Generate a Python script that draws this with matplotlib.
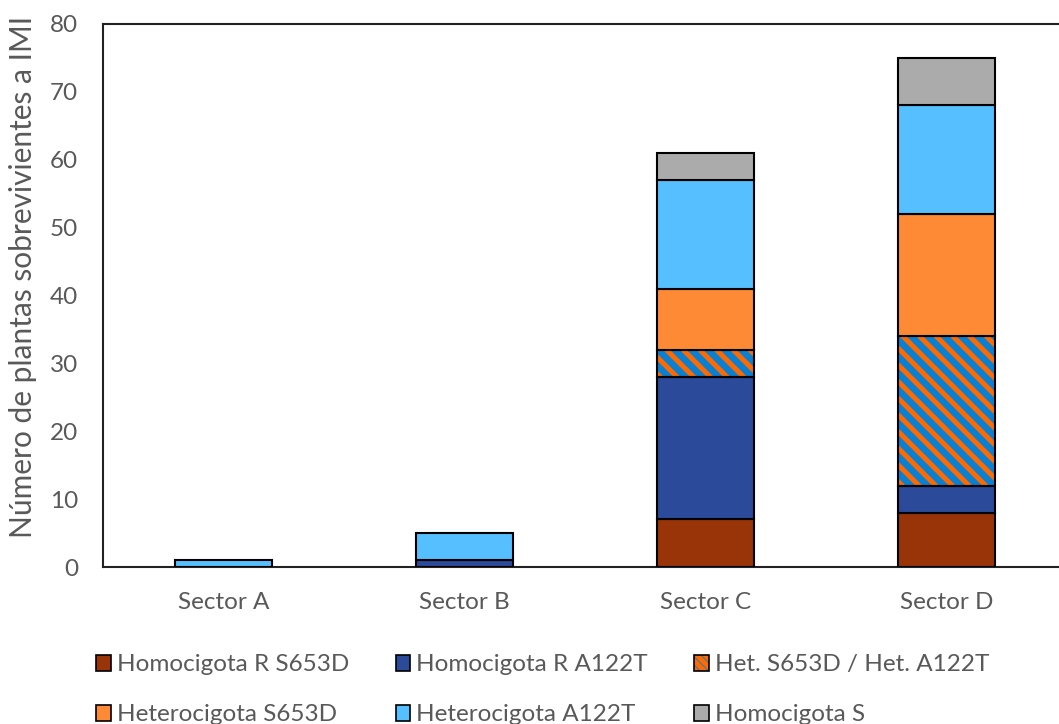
import matplotlib
matplotlib.use("Agg")
import matplotlib.pyplot as plt
from matplotlib.patches import Patch
from matplotlib.legend_handler import HandlerTuple
import numpy as np

plt.rcParams['font.family'] = ['Lato', 'DejaVu Sans']
plt.rcParams['hatch.linewidth'] = 3.6

sectors = ["Sector A", "Sector B", "Sector C", "Sector D"]
homo_r_s653d = [0, 0, 7, 8]
homo_r_a122t = [0, 1, 21, 4]
het_het = [0, 0, 4, 22]
het_s653d = [0, 0, 9, 18]
het_a122t = [1, 4, 16, 16]
homo_s = [0, 0, 4, 7]

series = [
    ("Homocigota R S653D", homo_r_s653d, "#993308"),
    ("Homocigota R A122T", homo_r_a122t, "#2B4A9A"),
    ("Het. S653D / Het. A122T", het_het, "#0A80D2"),
    ("Heterocigota S653D", het_s653d, "#FF8A36"),
    ("Heterocigota A122T", het_a122t, "#55BFFF"),
    ("Homocigota S", homo_s, "#ABABAB"),
]
hatch_color = "#FF6A00"
text_color = "#595959"

fig = plt.figure(figsize=(10.59, 7.24), dpi=100)
ax = fig.add_axes([103 / 1059, (724 - 567) / 724, 964 / 1059, 543 / 724])

x = np.arange(len(sectors))
width = 0.405
bottom = np.zeros(len(sectors))
handles = {}
for name, vals, color in series:
    vals = np.array(vals, dtype=float)
    mask = vals > 0
    if name.startswith("Het. "):
        # striped fill first, black outline drawn on top
        ax.bar(x[mask], vals[mask], width, bottom=bottom[mask], facecolor=color,
               edgecolor=hatch_color, hatch="\\\\", linewidth=0, zorder=2)
        ax.bar(x[mask], vals[mask], width, bottom=bottom[mask], fill=False,
               edgecolor="black", linewidth=1.5, zorder=3)
        h1 = Patch(facecolor=color, edgecolor=hatch_color, hatch="\\\\\\\\", linewidth=0)
        h2 = Patch(fill=False, edgecolor="black", linewidth=1.2)
        handles[name] = (h1, h2)
    else:
        ax.bar(x[mask], vals[mask], width, bottom=bottom[mask], color=color,
               edgecolor="black", linewidth=1.5, zorder=3)
        handles[name] = Patch(facecolor=color, edgecolor="black", linewidth=1.2)
    bottom += vals

ax.set_xlim(-0.5, 3.5)
ax.set_ylim(0, 80)
ax.set_yticks(range(0, 81, 10))
ax.set_xticks(x)
ax.set_xticklabels(sectors)
ax.tick_params(axis="both", length=0, labelsize=17.5, colors=text_color)
ax.tick_params(axis="y", pad=18)
ax.tick_params(axis="x", pad=18)
for side in ["left", "bottom", "top"]:
    ax.spines[side].set_color("#222222")
    ax.spines[side].set_linewidth(1.5)
ax.spines["right"].set_visible(False)
ax.set_ylabel("Número de plantas sobrevivientes a IMI", fontsize=21.5,
              color=text_color)
ax.yaxis.set_label_coords(-0.068, 0.535)

order = ["Homocigota R S653D", "Heterocigota S653D",
         "Homocigota R A122T", "Heterocigota A122T",
         "Het. S653D / Het. A122T", "Homocigota S"]
leg = fig.legend([handles[n] for n in order], order, ncol=3,
                 loc="upper left", bbox_to_anchor=(77 / 1059, 1 - 635 / 724),
                 frameon=False, fontsize=17.5, handlelength=0.6, handleheight=0.6,
                 handletextpad=0.25, columnspacing=1.9, labelspacing=1.19,
                 borderpad=0.3, labelcolor=text_color,
                 handler_map={tuple: HandlerTuple(ndivide=1, pad=0)})

fig.savefig("out.png", dpi=100)
